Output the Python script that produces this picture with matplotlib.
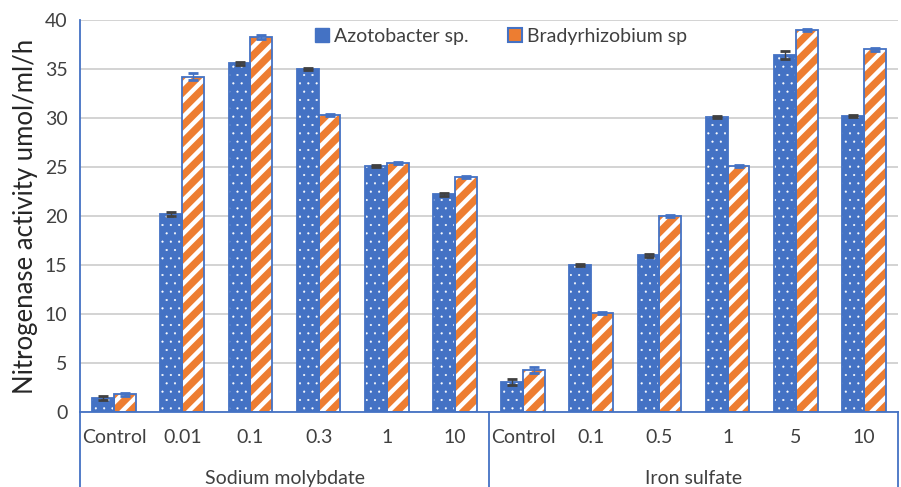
import numpy as np
import matplotlib.pyplot as plt
from matplotlib.patches import Patch

# values
categories = ['Control', '0.01', '0.1', '0.3', '1', '10',
              'Control', '0.1', '0.5', '1', '5', '10']
groups = ['Sodium molybdate', 'Iron sulfate']
azotobacter = [1.4, 20.2, 35.6, 35.0, 25.1, 22.2,
               3.1, 15.0, 16.0, 30.1, 36.4, 30.2]
azotobacter_err = [0.2, 0.2, 0.15, 0.15, 0.15, 0.15,
                   0.3, 0.15, 0.15, 0.15, 0.4, 0.15]
bradyrhizobium = [1.8, 34.2, 38.3, 30.3, 25.4, 24.0,
                  4.3, 10.1, 20.0, 25.1, 39.0, 37.0]
bradyrhizobium_err = [0.15, 0.35, 0.2, 0.1, 0.1, 0.1,
                      0.3, 0.15, 0.15, 0.1, 0.1, 0.15]

blue = '#4472C4'
orange = '#ED7D31'
plt.rcParams['font.family'] = ['Lato', 'DejaVu Sans']

fig = plt.figure(figsize=(9.01, 4.87), dpi=100)
ax = fig.add_axes([0.0888, 0.154, 0.9079, 0.805])

x = np.arange(len(categories))
w = 0.32

# fill + white hatch, then outline in blue
plt.rcParams['hatch.linewidth'] = 0.3
ax.bar(x - w/2, azotobacter, w, color=blue, edgecolor='white', hatch='..', linewidth=0, zorder=2)
plt.rcParams['hatch.linewidth'] = 3.2
ax.bar(x + w/2, bradyrhizobium, w, color=orange, edgecolor='white', hatch='//', linewidth=0, zorder=2)
ax.bar(x - w/2, azotobacter, w, fill=False, edgecolor=blue, linewidth=1.3, zorder=3)
ax.bar(x + w/2, bradyrhizobium, w, fill=False, edgecolor=blue, linewidth=1.3, zorder=3)

ax.errorbar(x - w/2, azotobacter, yerr=azotobacter_err, fmt='none', ecolor='#404040',
            capsize=3.5, elinewidth=1, capthick=2, zorder=4)
ax.errorbar(x + w/2, bradyrhizobium, yerr=bradyrhizobium_err, fmt='none', ecolor=blue,
            capsize=3.5, elinewidth=1, capthick=2, zorder=4)

ax.set_xlim(-0.5, len(categories) - 0.5)
ax.set_ylim(0, 40)
ax.set_yticks(np.arange(0, 41, 5))
ax.tick_params(axis='y', labelsize=14, colors='#404040', length=0, pad=9)
ax.tick_params(axis='x', length=0)
ax.set_xticks([])
ax.yaxis.grid(True, color='#D0D0D0', linewidth=1.3)
ax.set_axisbelow(True)
for s in ['top', 'right']:
    ax.spines[s].set_visible(False)
ax.spines['left'].set_color(blue)
ax.spines['bottom'].set_color(blue)
ax.spines['left'].set_linewidth(1.3)
ax.spines['bottom'].set_linewidth(1.3)

ax.set_ylabel('Nitrogenase activity umol/ml/h', fontsize=18.5, color='#262626', labelpad=5)

# category labels and group labels below axis
trans = ax.get_xaxis_transform()
for xi, c in zip(x, categories):
    ax.text(xi, -0.065, c, transform=trans, ha='center', va='center', fontsize=14, color='#404040')
n = len(categories) // 2
for gi, g in enumerate(groups):
    ax.text(gi * n + (n - 1) / 2, -0.17, g, transform=trans, ha='center', va='center',
            fontsize=14, color='#404040')
for xb in [-0.5, n - 0.5, len(categories) - 0.5]:
    ax.plot([xb, xb], [0, -0.2], transform=trans, color=blue, linewidth=1.3, clip_on=False)

handles = [Patch(facecolor=blue, edgecolor=blue, label='Azotobacter sp.'),
           Patch(facecolor=orange, edgecolor=blue, linewidth=1.5, label='Bradyrhizobium sp')]
leg = ax.legend(handles=handles, loc='upper center',
                bbox_to_anchor=(0.515, 1.025), ncol=2, frameon=False, fontsize=14,
                handlelength=0.7, handleheight=0.7, columnspacing=2.0, handletextpad=0.3)
for t in leg.get_texts():
    t.set_color('#404040')

fig.savefig('out.png', dpi=100)
